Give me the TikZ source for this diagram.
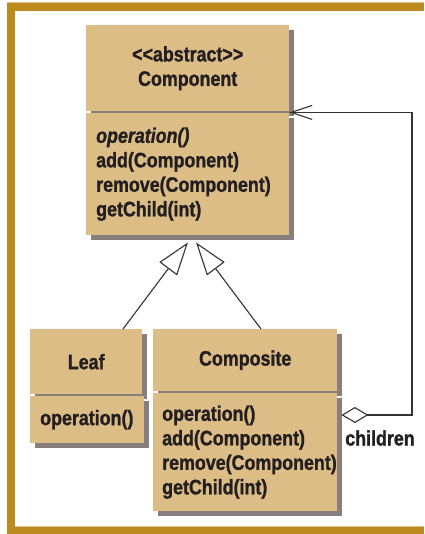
\documentclass[tikz,border=0pt]{standalone}
\usepackage{fontspec}
\setmainfont{Liberation Sans}[FakeStretch=0.85,BoldFeatures={FakeBold=1.2},BoldItalicFeatures={FakeBold=1.2}]
\usetikzlibrary{arrows.meta,shadows,calc}
\definecolor{tanc}{HTML}{DDBD86}
\definecolor{goldc}{HTML}{BC8A1E}
\definecolor{palec}{HTML}{DCC28A}
\definecolor{shadc}{HTML}{877F7E}
\definecolor{inkc}{HTML}{231F20}
\definecolor{linec}{HTML}{333333}
\begin{document}
\begin{tikzpicture}[x=1pt,y=-1pt,
  comp/.style={draw=none,fill=tanc,inner sep=0pt,anchor=north west,
    font=\fontsize{21}{24.5}\selectfont\bfseries,text=inkc,
    drop shadow={shadow xshift=5pt,shadow yshift=-5pt,fill=shadc,opacity=1}},
  titlebox/.style={comp,align=center},
  opsbox/.style={comp,align=left,inner xsep=10pt},
  conn/.style={draw=linec,line width=1.1pt},
  lbl/.style={font=\fontsize{21}{24.5}\selectfont\bfseries,text=inkc,inner sep=0pt}]
\useasboundingbox (0,0) rectangle (424,534);
% frame
\fill[palec] (7,2) rectangle (424,3.2);
\fill[goldc] (7,3) rectangle (424,11);
\fill[goldc] (7,3) rectangle (15,534);
\fill[palec] (15,526.2) rectangle (424,527.4);
\fill[goldc] (7,527.2) rectangle (424,534);
% Component
\node[titlebox,text width=203pt,minimum height=86pt] (cu) at (86,25)
  {<{}<abstract>{}>\\Component};
\node[opsbox,text width=183pt,minimum height=122pt] (cl) at (86,113)
  {\textit{operation()}\\add(Component)\\remove(Component)\\getChild(int)};
% Leaf
\node[titlebox,text width=112pt,minimum height=65pt] (lu) at (30,329) {Leaf};
\node[opsbox,text width=94pt,minimum height=47pt] (ll) at (30,396) {operation()};
% Composite
\node[titlebox,text width=184pt,minimum height=62pt] (ku) at (153,329) {Composite};
\node[opsbox,text width=166pt,inner xsep=9pt,minimum height=118pt] (kl) at (153,393)
  {operation()\\add(Component)\\remove(Component)\\getChild(int)};
% generalisation
\coordinate (apexL) at ($(cu.south west)+(102,131)$);
\coordinate (apexR) at ($(cu.south west)+(110,131)$);
\coordinate (leafTop) at ($(lu.north west)+(93,0)$);
\coordinate (compTop) at ($(ku.north west)+(108,0)$);
\draw[conn,-{Triangle[open,length=33pt,width=22pt,fill=white]}] (leafTop) -- (apexL);
\draw[conn,-{Triangle[open,length=33pt,width=22pt,fill=white]}] (compTop) -- (apexR);
% aggregation
\coordinate (dstart) at ($(kl.north east)+(4,22)$);
\coordinate (corner) at (412,415);
\coordinate (target) at ($(cu.south east)+(0,1)$);
\draw[conn,{Diamond[open,length=27pt,width=16pt,fill=white]}-{Straight Barb[length=21pt,width=14pt]}]
  (dstart) -- (corner) |- (target);
\node[lbl] (children) at (380,438) {children};
\end{tikzpicture}
\end{document}
